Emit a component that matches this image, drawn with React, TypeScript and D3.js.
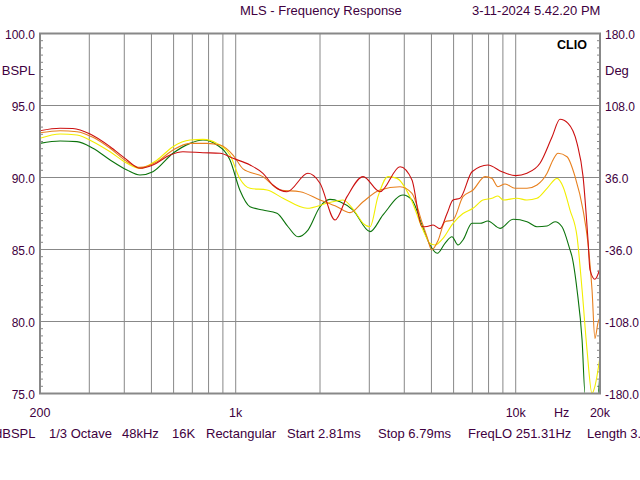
import * as d3 from 'd3';
import React from 'react';

// Frequency (Hz), level (dB SPL) pairs
const RED: [number, number][] = [
  [200, 93.25], [236, 93.42], [262, 93.4], [302, 93.02], [356, 92.14], [409, 91.22],
  [455, 90.64], [506, 90.87], [583, 91.56], [648, 91.79], [764, 91.72], [879, 91.68],
  [978, 91.33], [1125, 90.87], [1251, 90.29], [1358, 89.48], [1525, 89.01], [1812, 90.29],
  [2000, 89.6], [2264, 87.05], [2498, 88.67], [2851, 90.06], [3275, 89.01], [3862, 90.75],
  [4261, 89.83], [4626, 86.58], [4821, 86.6], [5068, 86.7], [5366, 86.45], [5686, 87.5],
  [5970, 88.44], [6325, 88.56], [6980, 90.4], [7960, 90.87], [8930, 90.4], [10000, 90.13],
  [10970, 90.3], [12210, 90.99], [13490, 92.83], [14390, 94.04], [15380, 93.76], [16560, 92.37],
  [17400, 90.06], [18120, 85.66], [18420, 83.58], [19180, 82.93], [20000, 83.7],
];

const ORANGE: [number, number][] = [
  [200, 93.11], [236, 93.25], [271, 93.18], [309, 92.79], [356, 92.03], [409, 91.1],
  [455, 90.7], [524, 91.1], [597, 91.91], [687, 92.37], [790, 92.37], [879, 92.26],
  [978, 91.56], [1062, 90.6], [1251, 90.06], [1439, 89.13], [1697, 89.01], [2000, 88.44],
  [2300, 87.97], [2560, 87.56], [2851, 88.32], [3275, 89.13], [3862, 89.36], [4261, 88.9],
  [4626, 86.9], [4821, 85.89], [5012, 84.97], [5290, 85.66], [5589, 86.93], [5970, 87.05],
  [6481, 88.67], [7040, 89.13], [7770, 90.06], [8220, 89.94], [8640, 89.36], [9160, 89.55],
  [9940, 89.25], [10970, 89.25], [11910, 89.48], [12940, 90.29], [13590, 91.22], [14160, 91.68],
  [15250, 91.44], [16290, 90.06], [17400, 87.74], [18120, 85.43], [18730, 82.2], [19180, 78.83],
  [19670, 79.9], [20000, 80.3],
];

const YELLOW: [number, number][] = [
  [200, 92.72], [236, 93.02], [271, 92.95], [309, 92.49], [356, 91.79], [409, 90.99],
  [455, 90.64], [524, 91.22], [597, 92.14], [687, 92.6], [764, 92.65], [857, 92.37],
  [954, 91.56], [1036, 89.9], [1125, 89.25], [1294, 89.13], [1476, 88.56], [1798, 87.86],
  [2118, 88.21], [2416, 88.44], [2667, 87.62], [2851, 86.82], [3018, 86.58], [3221, 88.67],
  [3500, 90.06], [3769, 89.94], [4190, 88.67], [4667, 86.35], [4941, 85.43], [5152, 85.31],
  [5500, 85.77], [5970, 86.82], [6481, 87.5], [7040, 87.86], [7640, 88.44], [8220, 88.56],
  [8640, 88.72], [9010, 88.44], [10100, 88.56], [10970, 88.44], [11910, 88.56], [12940, 89.25],
  [14050, 89.94], [14760, 89.36], [15630, 87.74], [16560, 85.89], [17260, 82.2], [17980, 78.0],
  [18730, 74.8], [19180, 75.5], [20000, 77.55],
];

const GREEN: [number, number][] = [
  [200, 92.37], [236, 92.53], [271, 92.49], [309, 92.03], [356, 91.22], [409, 90.52],
  [455, 90.17], [506, 90.4], [597, 91.68], [687, 92.37], [764, 92.6], [857, 92.26],
  [954, 91.22], [1036, 89.1], [1125, 87.97], [1251, 87.74], [1404, 87.51], [1538, 86.58],
  [1669, 85.89], [1812, 86.35], [2000, 87.97], [2171, 88.48], [2357, 88.32], [2624, 87.74],
  [3018, 86.24], [3358, 87.4], [3958, 88.78], [4261, 88.44], [4626, 86.7], [4941, 85.31],
  [5250, 84.74], [5589, 85.43], [5920, 85.89], [6220, 85.31], [6481, 85.66], [6980, 86.82],
  [7460, 86.82], [7960, 86.98], [8790, 86.47], [9780, 87.1], [10970, 86.93], [11910, 86.58],
  [12940, 86.63], [13820, 86.93], [14630, 86.58], [15630, 84.97], [15890, 84.5], [16560, 82.19],
  [17260, 78.72], [17690, 74.5], [18730, 73.5], [19670, 74.5], [20000, 76.5],
];

const SERIES = [
  { name: 'green', color: '#0b730b', data: GREEN },
  { name: 'yellow', color: '#f2ee00', data: YELLOW },
  { name: 'orange', color: '#e8801e', data: ORANGE },
  { name: 'red', color: '#cc1010', data: RED },
];

const GRID_FREQS = [300, 400, 500, 600, 700, 800, 900, 1000, 2000, 3000, 4000, 5000, 6000, 7000, 8000, 9000, 10000];
const X_LABELS: [number, string][] = [[200, '200'], [1000, '1k'], [10000, '10k'], [14600, 'Hz'], [20000, '20k']];
const SPL_TICKS = [100, 95, 90, 85, 80, 75];
const DEG_TICKS = [180, 108, 36, -36, -108, -180];
const TITLE = 'MLS - Frequency Response';
const DATE = '3-11-2024 5.42.20 PM';
const FOOTER = ['dBSPL', '1/3 Octave', '48kHz', '16K', 'Rectangular', 'Start 2.81ms', 'Stop 6.79ms', 'FreqLO 251.31Hz', 'Length 3.'];
const FOOTER_X = [-5, 49, 122, 172, 206, 287, 378, 468, 587];

const W = 640;
const H = 480;
const margin = { top: 33.5, right: 40, bottom: 86.5, left: 40 };
const TEXT = '#400040';
const GRID = '#888888';
const FONT = '"Liberation Sans", Arial, sans-serif';

const App: React.FC = () => {
  const x = d3.scaleLog().domain([200, 20000]).range([margin.left, W - margin.right]);
  const y = d3.scaleLinear().domain([75, 100]).range([H - margin.bottom, margin.top]).clamp(true);
  const yDeg = d3.scaleLinear().domain([-180, 180]).range([H - margin.bottom, margin.top]);

  const line = d3.line<[number, number]>()
    .x(d => x(d[0]))
    .y(d => y(d[1]))
    .curve(d3.curveMonotoneX);

  const minorSpl = d3.range(75, 100.01, 0.5);
  const minorDeg = d3.range(-180, 180.01, 7.2);
  const [x0, x1] = x.range();
  const [yb, yt] = y.range();

  return (
    <svg width={W} height={H} style={{ position: 'absolute', left: 0, top: 0, background: '#fff' }}
      fontFamily={FONT} fontSize={13}>
      <rect x={0} y={0} width={W} height={H} fill="#fff" />

      {/* grid */}
      {GRID_FREQS.map(f => (
        <line key={f} x1={x(f)} x2={x(f)} y1={yt} y2={yb} stroke={GRID} strokeWidth={1} />
      ))}
      {SPL_TICKS.slice(1, -1).map(v => (
        <line key={v} x1={x0} x2={x1} y1={y(v)} y2={y(v)} stroke={GRID} strokeWidth={1} />
      ))}

      {/* minor ticks */}
      {minorSpl.map(v => (
        <line key={'l' + v} x1={x0} x2={x0 + 3} y1={y(v)} y2={y(v)} stroke={GRID} strokeWidth={1} />
      ))}
      {minorDeg.map(v => (
        <line key={'r' + v} x1={x1 - 3} x2={x1} y1={yDeg(v)} y2={yDeg(v)} stroke={GRID} strokeWidth={1} />
      ))}

      {/* curves */}
      {SERIES.map(s => (
        <path key={s.name} d={line(s.data) ?? ''} fill="none" stroke={s.color} strokeWidth={1.1} />
      ))}

      {/* frame */}
      <rect x={x0} y={yt} width={x1 - x0} height={yb - yt} fill="none" stroke={GRID} strokeWidth={2} />

      <text x={557} y={49} fontWeight="bold" fontSize={12.5} fill="#000">CLIO</text>

      {/* texts */}
      <text x={240} y={15} fill={TEXT}>{TITLE}</text>
      <text x={472} y={15} fill={TEXT}>{DATE}</text>

      {SPL_TICKS.map(v => (
        <text key={v} x={35} y={y(v) + 5} textAnchor="end" fontSize={12} fill={TEXT}>{v.toFixed(1)}</text>
      ))}
      <text x={35} y={74.5} textAnchor="end" fill={TEXT}>BSPL</text>

      {DEG_TICKS.map(v => (
        <text key={v} x={605} y={yDeg(v) + 5} fontSize={12} fill={TEXT}>{v.toFixed(1)}</text>
      ))}
      <text x={605} y={74.5} fill={TEXT}>Deg</text>

      {X_LABELS.map(([f, t]) => (
        <text key={t} x={x(f)} y={417} textAnchor="middle" fontSize={12.5} fill={TEXT}>{t}</text>
      ))}

      {FOOTER.map((t, i) => (
        <text key={t} x={FOOTER_X[i]} y={438} fill={TEXT}>{t}</text>
      ))}
    </svg>
  );
};

export default App;
